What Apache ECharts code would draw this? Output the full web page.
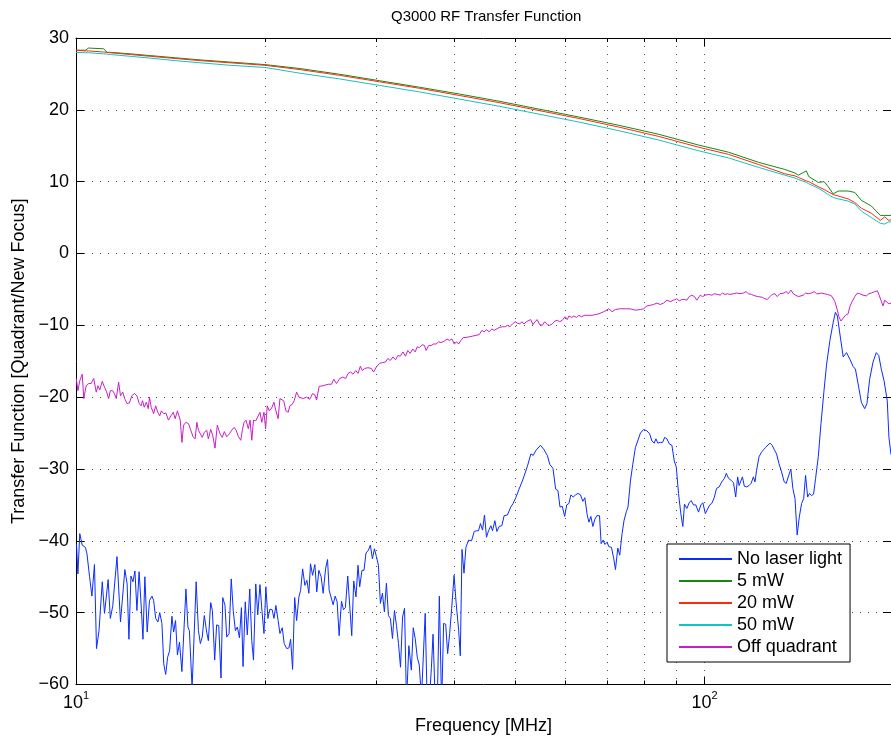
<!DOCTYPE html>
<html>
<head>
<meta charset="utf-8">
<title>Q3000 RF Transfer Function</title>
<script src="https://cdn.jsdelivr.net/npm/echarts@6/dist/echarts.min.js"></script>
<style>
  html, body { margin: 0; padding: 0; background: #fff; }
  #chart { width: 891px; height: 742px; }
</style>
</head>
<body>
<div id="chart"></div>
<script>
// values (frequency in MHz, transfer function)
const xMin = 10, xMax = 198;
const yMin = -60, yMax = 30, yStep = 10;
const minorGridFreq = [20, 30, 40, 50, 60, 70, 80, 90];
const seriesNames = ['No laser light', '5 mW', '20 mW', '50 mW', 'Off quadrant'];

const noLaserFreq = [
  10.02, 10.07, 10.14, 10.23, 10.35, 10.41, 10.51, 10.60, 10.70, 10.78,
  10.88, 11.01, 11.10, 11.25, 11.34, 11.44, 11.52, 11.62, 11.77, 11.96,
  12.06, 12.14, 12.23, 12.32, 12.41, 12.50, 12.60, 12.70, 12.78, 12.87,
  12.98, 13.09, 13.21, 13.29, 13.39, 13.50, 13.59, 13.70, 13.79, 13.89,
  13.99, 14.09, 14.21, 14.30, 14.40, 14.50, 14.61, 14.74, 14.96, 15.07,
  15.15, 15.30, 15.53, 15.66, 15.77, 15.88, 16.00, 16.14, 16.24, 16.38,
  16.48, 16.62, 16.74, 16.87, 17.01, 17.12, 17.26, 17.37, 17.52, 17.66,
  17.79, 17.93, 18.06, 18.20, 18.33, 18.44, 18.59, 18.73, 18.90, 19.04,
  19.16, 19.32, 19.46, 19.62, 19.77, 19.91, 20.05, 20.20, 20.35, 20.52,
  20.65, 20.80, 20.97, 21.11, 21.29, 21.44, 21.64, 21.82, 21.95, 22.11,
  22.28, 22.44, 22.63, 22.77, 22.94, 23.13, 23.30, 23.47, 23.61, 23.79,
  23.99, 24.16, 24.34, 24.55, 24.73, 24.95, 25.13, 25.28, 25.46, 25.65,
  25.84, 26.03, 26.22, 26.45, 26.64, 26.83, 27.06, 27.46, 27.66, 27.89,
  28.10, 28.27, 28.51, 28.72, 28.93, 29.19, 29.40, 29.62, 29.84, 30.06,
  30.28, 30.50, 30.73, 30.95, 31.18, 31.41, 31.64, 31.88, 32.11, 32.35,
  32.59, 32.83, 33.08, 33.32, 33.56, 33.85, 34.16, 34.40, 34.65, 34.91,
  35.17, 35.45, 35.94, 36.21, 36.50, 36.77, 36.99, 37.30, 37.58, 37.85,
  38.17, 38.45, 38.74, 39.02, 39.31, 39.60, 39.95, 40.24, 40.63, 40.87,
  41.13, 41.43, 41.72, 42.13, 42.59, 43.01, 43.37, 43.69, 44.01, 44.34,
  44.66, 44.99, 45.32, 45.72, 45.99, 46.39, 46.73, 47.12, 47.59, 47.99,
  48.57, 49.17, 49.59, 50.08, 50.69, 51.44, 52.27, 52.93, 53.39, 53.93,
  54.82, 55.53, 56.21, 56.76, 57.39, 57.96, 58.45, 58.89, 59.39, 59.91,
  60.36, 60.84, 61.29, 61.80, 62.34, 62.93, 63.49, 64.02, 64.50, 65.04,
  65.46, 65.94, 66.42, 66.91, 67.40, 68.06, 68.47, 68.97, 69.40, 69.99,
  70.41, 71.11, 71.71, 72.16, 72.77, 73.30, 73.92, 74.45, 75.11, 75.55,
  76.22, 76.87, 77.63, 78.29, 79.07, 80.00, 80.99, 81.78, 82.47, 83.19,
  83.68, 84.30, 85.05, 85.77, 86.40, 87.13, 87.88, 88.73, 89.51, 90.16,
  90.91, 91.68, 92.35, 92.93, 93.72, 94.53, 95.22, 96.03, 96.85, 97.83,
  98.65, 99.38, 100.3, 101.0, 101.9, 102.7, 103.6, 104.5, 105.5, 106.5,
  107.6, 108.3, 109.2, 110.3, 111.2, 112.1, 112.9, 113.5, 114.2, 114.9,
  115.7, 116.7, 117.7, 118.6, 119.6, 120.3, 121.0, 122.1, 123.3, 124.3,
  125.0, 125.9, 127.1, 128.1, 129.1, 130.2, 131.3, 132.6, 133.9, 134.9,
  135.9, 137.2, 138.2, 139.3, 140.4, 141.5, 142.7, 143.8, 144.8, 145.9,
  146.9, 148.0, 149.1, 150.2, 151.7, 153.2, 154.9, 156.4, 158.3, 160.2,
  161.5, 162.7, 164.2, 166.2, 168.2, 170.3, 172.3, 173.8, 175.9, 177.6,
  179.8, 181.3, 183.1, 185.4, 187.6, 189.3, 191.1, 193.0, 194.2, 195.3,
  196.5, 198.0
];
const noLaserDb = [
  -40.5, -44.6, -39.0, -40.6, -40.9, -41.8, -45.0, -47.7, -43.3, -55.0,
  -52.5, -45.7, -50.1, -45.4, -50.8, -49.1, -49.2, -42.2, -51.3, -44.0,
  -46.0, -53.7, -44.9, -45.7, -44.2, -49.7, -44.3, -49.2, -53.7, -45.0,
  -52.7, -48.3, -47.7, -48.3, -50.8, -51.3, -50.0, -51.5, -57.1, -58.6,
  -56.2, -55.3, -50.5, -52.7, -51.1, -55.9, -54.1, -58.2, -46.7, -52.0,
  -52.5, -60.5, -45.7, -52.5, -54.3, -53.4, -50.4, -52.7, -53.9, -48.6,
  -49.7, -56.6, -51.7, -51.8, -59.1, -47.9, -49.0, -53.4, -52.9, -45.3,
  -49.7, -52.5, -52.0, -53.5, -49.3, -57.5, -48.5, -53.1, -46.7, -53.9,
  -56.6, -46.0, -50.3, -46.1, -49.9, -52.9, -46.4, -50.8, -49.5, -49.6,
  -50.8, -49.0, -51.1, -52.9, -52.1, -54.3, -55.0, -54.9, -53.7, -57.9,
  -47.9, -51.1, -47.8, -46.9, -43.9, -46.2, -45.5, -47.3, -43.2, -44.8,
  -43.3, -47.1, -44.1, -45.0, -47.3, -43.9, -42.6, -46.9, -47.1, -48.9,
  -47.7, -48.5, -53.2, -48.4, -49.6, -49.3, -44.9, -53.2, -45.6, -47.8,
  -43.4, -46.4, -44.1, -44.1, -41.7, -41.3, -40.6, -42.5, -41.1, -42.2,
  -43.4, -48.7, -47.3, -49.9, -45.9, -50.4, -50.8, -53.6, -49.7, -51.8,
  -54.3, -57.6, -50.6, -49.4, -62.5, -54.6, -58.0, -52.1, -53.6, -56.2,
  -57.3, -62.0, -50.1, -63.0, -62.0, -57.6, -53.0, -63.0, -62.0, -47.7,
  -63.0, -51.5, -51.6, -55.7, -52.9, -49.4, -44.8, -48.5, -52.5, -56.0,
  -41.2, -44.5, -40.9, -39.9, -40.0, -38.7, -38.6, -38.6, -37.6, -38.5,
  -36.4, -39.5, -38.6, -37.9, -38.6, -37.2, -38.7, -38.0, -37.9, -36.5,
  -36.4, -35.3, -34.8, -34.0, -32.8, -31.4, -29.6, -27.9, -28.1, -27.4,
  -26.7, -27.3, -28.1, -29.4, -29.9, -32.8, -33.0, -35.3, -35.2, -36.6,
  -35.0, -34.8, -33.6, -33.9, -33.6, -33.4, -33.6, -34.5, -34.0, -36.3,
  -37.4, -36.6, -38.0, -37.0, -36.5, -36.5, -40.4, -39.9, -40.5, -40.2,
  -40.8, -40.9, -42.5, -44.0, -41.0, -42.0, -39.0, -37.2, -35.9, -35.3,
  -31.7, -29.4, -27.0, -26.1, -25.0, -24.5, -24.7, -25.1, -26.1, -26.4,
  -25.8, -26.4, -26.3, -26.3, -25.6, -25.8, -26.5, -26.7, -28.9, -29.7,
  -33.4, -36.2, -38.0, -34.9, -35.5, -34.7, -34.4, -35.0, -35.0, -36.0,
  -35.0, -34.7, -36.2, -36.1, -35.0, -34.8, -34.0, -32.7, -32.5, -31.8,
  -31.3, -30.6, -31.3, -31.6, -31.9, -33.9, -31.1, -32.3, -32.3, -31.1,
  -32.4, -32.5, -32.3, -32.0, -31.1, -31.8, -30.2, -28.3, -27.6, -27.3,
  -27.0, -27.2, -26.4, -26.7, -27.3, -27.9, -29.2, -30.4, -31.8, -32.0,
  -31.1, -30.0, -32.7, -34.1, -39.2, -36.7, -34.8, -34.1, -30.9, -33.9,
  -33.4, -33.7, -33.5, -31.3, -28.3, -23.7, -19.1, -15.4, -12.1, -9.6,
  -8.2, -8.7, -11.2, -14.4, -13.8, -14.7, -15.7, -16.1, -18.6, -20.7,
  -21.6, -20.9, -17.5, -15.1, -13.8, -14.2, -16.1, -17.7, -17.9, -20.5,
  -25.6, -28.0
];

// the three laser power curves share one frequency list
const powerFreq = [
  10.00, 10.35, 10.47, 10.54, 11.06, 11.21, 11.34, 12.20, 13.13, 14.38,
  15.75, 17.58, 19.98, 22.71, 26.28, 30.41, 35.19, 40.72, 47.12, 54.53,
  63.10, 73.03, 84.51, 97.83, 109.2, 121.8, 134.2, 139.3, 141.0, 145.2,
  146.5, 151.7, 155.0, 157.3, 160.2, 163.2, 169.2, 173.4, 177.6, 184.3,
  190.4, 193.5, 196.5, 198.0
];
const mw5Db = [
  28.3, 28.3, 28.6, 28.6, 28.5, 28.0, 28.0, 27.8, 27.55, 27.25,
  26.95, 26.65, 26.3, 25.75, 24.95, 24.05, 23.15, 22.2, 21.2, 20.1,
  19.0, 17.85, 16.6, 15.1, 14.1, 12.7, 11.7, 11.2, 10.9, 11.5,
  10.7, 9.9, 10.0, 9.3, 8.3, 8.7, 8.7, 8.5, 7.4, 6.6,
  5.3, 5.3, 5.3, 5.3
];
const mw20Db = [
  28.3, 28.2, 28.2, 28.2, 28.05, 28.0, 27.95, 27.7, 27.45, 27.15,
  26.85, 26.55, 26.2, 25.6, 24.8, 23.9, 23.0, 22.0, 21.0, 19.9,
  18.8, 17.6, 16.3, 14.8, 13.8, 12.4, 11.1, 10.8, 10.6, 10.1,
  10.0, 9.3, 8.9, 8.6, 8.2, 8.0, 7.6, 7.1, 6.3, 5.6,
  4.6, 5.1, 4.6, 4.7
];
const mw50Db = [
  28.0, 27.95, 27.95, 27.9, 27.8, 27.75, 27.7, 27.45, 27.2, 26.85,
  26.55, 26.2, 25.9, 25.1, 24.3, 23.4, 22.5, 21.5, 20.5, 19.4,
  18.3, 17.1, 15.8, 14.3, 13.3, 12.0, 10.9, 10.5, 10.3, 9.9,
  9.7, 9.1, 8.6, 8.2, 7.8, 7.6, 7.3, 6.9, 5.9, 5.0,
  4.2, 4.1, 4.4, 4.4
];

const offQuadFreq = [
  10.01, 10.07, 10.14, 10.23, 10.29, 10.38, 10.48, 10.57, 10.67, 10.77,
  10.84, 10.91, 11.01, 11.10, 11.18, 11.27, 11.34, 11.44, 11.51, 11.59,
  11.69, 11.77, 11.87, 11.95, 12.06, 12.16, 12.27, 12.39, 12.50, 12.61,
  12.69, 12.76, 12.84, 12.94, 13.03, 13.09, 13.17, 13.29, 13.39, 13.49,
  13.59, 13.67, 13.79, 13.90, 14.03, 14.16, 14.28, 14.38, 14.50, 14.65,
  14.74, 14.83, 14.96, 15.10, 15.23, 15.35, 15.47, 15.57, 15.66, 15.75,
  15.88, 16.00, 16.14, 16.24, 16.38, 16.50, 16.64, 16.78, 16.95, 17.09,
  17.22, 17.37, 17.54, 17.69, 17.85, 17.98, 18.13, 18.29, 18.40, 18.51,
  18.64, 18.80, 18.92, 19.04, 19.16, 19.32, 19.46, 19.62, 19.75, 19.91,
  20.03, 20.15, 20.30, 20.48, 20.65, 20.80, 20.97, 21.11, 21.24, 21.40,
  21.58, 21.76, 21.89, 22.08, 22.24, 22.44, 22.63,
  22.71, 22.99, 23.27, 23.55, 23.79, 23.99, 24.14, 24.37, 24.73, 25.19,
  25.50, 25.71, 25.97, 26.28, 26.60, 26.86, 27.09, 27.36, 27.59, 27.87,
  28.10, 28.34, 28.55, 28.79, 29.14, 29.50, 29.75, 30.05, 30.41, 30.71,
  31.08, 31.35, 31.62, 31.93, 32.24, 32.52, 32.80, 33.12, 33.44, 33.72,
  34.02, 34.34, 34.64, 34.90, 35.19, 35.54, 35.84, 36.06, 36.41, 36.73,
  37.04, 37.40, 37.76, 38.09, 38.55, 38.93, 39.26, 39.65, 39.98, 40.32,
  40.62, 40.97, 41.32, 41.73, 42.23, 42.75, 43.28, 43.80, 44.23, 44.61,
  44.99, 45.43, 45.88, 46.27, 46.56, 47.12, 47.70, 48.17, 48.58, 49.00,
  49.48, 49.97, 50.39, 50.82, 51.20, 51.62, 52.06, 52.44, 52.89, 53.34,
  53.73, 54.18, 54.66, 55.18, 55.67, 56.21, 56.70, 57.25, 57.82, 58.31,
  58.82, 59.39, 59.98, 60.48, 60.84, 61.45, 61.96, 62.56, 63.10, 63.72,
  64.50, 65.29, 66.25, 67.08,
  67.89, 69.14, 70.41, 71.27, 72.16, 73.22, 74.84, 76.22, 77.63, 79.07,
  80.00, 80.99, 81.98, 82.98, 84.00, 85.05, 86.07, 87.13, 88.22, 89.27,
  90.36, 91.15, 92.02, 92.93, 93.72, 94.53, 95.43, 96.38, 97.20, 98.43,
  99.27, 100.3, 101.5, 102.7, 103.7, 105.0, 105.9, 106.8, 107.8, 108.8,
  109.7, 111.2, 112.5, 113.9, 115.3, 116.4, 117.4, 118.8, 120.3, 121.8,
  123.6, 124.8, 125.9, 127.1, 128.1, 129.4, 130.5, 131.8, 132.6, 133.8,
  134.8, 135.9, 137.3, 138.4, 139.6, 141.0, 142.4, 143.6, 144.8, 146.2,
  148.0, 149.4, 150.7, 152.0, 153.4, 155.0, 156.9, 158.3, 159.6, 161.2,
  162.7, 163.6, 164.8, 166.2, 167.6, 169.2, 170.3, 171.7, 173.4, 175.1,
  176.6, 178.7, 181.0, 182.6, 184.3, 186.6, 188.4, 189.6, 190.8, 192.3,
  193.5, 194.7, 196.4, 198.0
];
const offQuadDb = [
  -17.4, -19.1, -17.7, -16.8, -20.2, -18.4, -18.1, -18.1, -17.4, -19.3,
  -18.4, -19.0, -17.8, -18.6, -19.2, -20.2, -19.1, -19.1, -19.5, -20.2,
  -17.9, -19.8, -19.3, -20.2, -20.9, -20.8, -19.8, -19.5, -19.8, -20.9,
  -21.2, -20.5, -21.4, -20.7, -21.6, -20.0, -21.4, -22.3, -21.2, -22.1,
  -22.6, -21.9, -22.3, -22.2, -23.2, -22.6, -22.1, -23.0, -21.9, -23.2,
  -26.3, -23.9, -23.5, -23.7, -24.6, -25.5, -25.8, -23.5, -24.6, -24.4,
  -25.6, -24.9, -24.6, -25.8, -24.5, -25.3, -27.1, -23.9, -25.1, -25.6,
  -24.8, -25.5, -25.1, -24.6, -24.2, -24.6, -25.5, -26.0, -24.5, -23.5,
  -23.2, -24.4, -23.2, -26.0, -23.2, -23.3, -23.2, -22.1, -23.5, -22.1,
  -24.4, -21.2, -21.9, -21.5, -20.7, -21.9, -23.0, -20.2, -20.0, -20.5,
  -21.9, -22.1, -21.2, -21.0, -20.5, -19.3, -20.0,
  -19.9, -20.2, -20.0, -20.3, -19.5, -19.7, -20.4, -18.5, -18.4, -18.2,
  -18.2, -17.5, -18.1, -17.4, -17.2, -17.4, -16.7, -16.5, -16.8, -16.3,
  -16.7, -15.7, -16.3, -16.0, -15.9, -16.0, -16.5, -15.8, -15.3, -15.2,
  -15.1, -14.6, -14.9, -14.4, -14.8, -14.2, -14.3, -13.7, -14.3, -13.5,
  -13.9, -13.3, -13.7, -13.0, -13.1, -12.7, -12.8, -13.5, -12.8, -12.8,
  -12.6, -12.6, -12.3, -12.4, -12.2, -11.9, -12.1, -11.9, -12.6, -12.3,
  -12.6, -12.1, -11.7, -11.7, -11.6, -11.5, -11.4, -11.3, -10.7, -10.9,
  -10.6, -10.9, -10.5, -10.7, -10.7, -10.3, -10.2, -10.2, -10.0, -10.2,
  -9.8, -9.5, -9.7, -9.8, -9.5, -9.8, -9.5, -9.6, -9.2, -9.9,
  -9.5, -9.2, -9.9, -10.0, -9.5, -9.9, -10.0, -9.8, -9.4, -9.3,
  -9.5, -9.3, -8.8, -9.2, -8.7, -8.9, -8.7, -8.9, -8.6, -8.8,
  -8.6, -8.6, -8.6, -8.5,
  -8.4, -8.1, -7.7, -8.1, -7.8, -7.7, -7.7, -7.7, -7.9, -7.8,
  -7.7, -7.3, -7.2, -7.1, -6.9, -7.1, -6.9, -6.5, -6.7, -6.5,
  -6.3, -6.6, -6.4, -6.4, -6.5, -6.0, -5.8, -6.0, -6.5, -5.8,
  -6.0, -5.8, -5.7, -5.8, -5.6, -5.7, -5.8, -5.5, -5.7, -5.6,
  -5.7, -5.6, -5.5, -5.6, -5.5, -5.3, -5.6, -5.7, -5.9, -6.0,
  -6.1, -6.3, -6.4, -6.0, -5.7, -5.6, -6.0, -5.6, -5.8, -5.5,
  -5.3, -5.6, -5.1, -5.6, -5.8, -6.0, -5.9, -5.8, -5.5, -5.6,
  -5.5, -5.3, -5.6, -5.6, -5.5, -5.6, -5.7, -5.8, -6.0, -6.7,
  -7.9, -8.8, -9.4, -9.0, -8.6, -8.4, -7.4, -6.7, -6.0, -5.5,
  -5.6, -5.8, -5.9, -5.6, -5.5, -5.3, -5.2, -5.8, -6.5, -7.3,
  -6.5, -6.7, -7.0, -6.9
];

const FONT = '"Liberation Sans", Arial, Helvetica, sans-serif';
const colors = ['#0a2cff', '#128a12', '#ff2a0a', '#10c4c4', '#c81ec8'];

function pairs(freq, vals) {
  return freq.map((f, i) => [f, vals[i]]);
}

function lineSeries(name, freq, vals, color) {
  return {
    name: name,
    type: 'line',
    data: pairs(freq, vals),
    showSymbol: false,
    symbol: 'none',
    lineStyle: { color: color, width: 1 },
    itemStyle: { color: color },
    emphasis: { disabled: true },
    animation: false,
    z: 3
  };
}

// dotted minor grid + short inward ticks for 20..90 MHz
function renderMinor(params, api) {
  const f = api.value(0);
  const top = api.coord([f, yMax]);
  const bot = api.coord([f, yMin]);
  const x = Math.round(top[0]) + 0.5;
  return {
    type: 'group',
    children: [
      { type: 'line', shape: { x1: x, y1: top[1], x2: x, y2: bot[1] },
        style: { stroke: '#555', lineWidth: 1, lineDash: [1, 7] } },
      { type: 'line', shape: { x1: x, y1: bot[1], x2: x, y2: bot[1] - 4 },
        style: { stroke: '#000', lineWidth: 1 } },
      { type: 'line', shape: { x1: x, y1: top[1], x2: x, y2: top[1] + 4 },
        style: { stroke: '#000', lineWidth: 1 } }
    ]
  };
}

function decadeLabel(v) {
  const e = Math.round(Math.log10(v));
  if (Math.abs(v - Math.pow(10, e)) > 1e-6 * v) return '';
  return '{b|10}{s|' + e + '}';
}

const chart = echarts.init(document.getElementById('chart'));
chart.setOption({
  animation: false,
  backgroundColor: '#fff',
  textStyle: { fontFamily: FONT },
  title: {
    text: 'Q3000 RF Transfer Function',
    left: 391,
    top: 9,
    padding: 0,
    textStyle: { fontSize: 15, fontWeight: 'normal', color: '#000', fontFamily: FONT }
  },
  grid: { left: 76, right: -2, top: 38, bottom: 57.5 },
  legend: {
    data: seriesNames,
    orient: 'vertical',
    left: 667,
    top: 544,
    itemWidth: 53,
    itemHeight: 14,
    itemGap: 4,
    padding: [6, 8, 6, 11],
    borderColor: '#000',
    borderWidth: 1,
    backgroundColor: '#fff',
    selectedMode: false,
    itemStyle: { opacity: 0 },
    textStyle: { fontSize: 18, lineHeight: 18, color: '#000', fontFamily: FONT }
  },
  xAxis: [
    {
      type: 'log',
      logBase: 10,
      min: xMin,
      max: xMax,
      position: 'bottom',
      name: 'Frequency [MHz]',
      nameLocation: 'middle',
      nameGap: 33,
      nameTextStyle: { fontSize: 18, color: '#000', fontFamily: FONT },
      axisLine: { show: true, onZero: false, lineStyle: { color: '#000', width: 1 } },
      axisTick: { show: true, inside: true, length: 8, lineStyle: { color: '#000' } },
      axisLabel: {
        showMaxLabel: false,
        margin: 6,
        formatter: decadeLabel,
        rich: {
          b: { fontSize: 18, lineHeight: 22, verticalAlign: 'bottom', color: '#000', fontFamily: FONT },
          s: { fontSize: 11, lineHeight: 22, verticalAlign: 'top', color: '#000', fontFamily: FONT }
        }
      },
      splitLine: { show: true, lineStyle: { color: '#555', width: 1, type: [1, 7] } },
      minorTick: { show: false },
      minorSplitLine: { show: false }
    },
    {
      type: 'log',
      logBase: 10,
      min: xMin,
      max: xMax,
      position: 'top',
      axisLine: { show: true, onZero: false, lineStyle: { color: '#000', width: 1 } },
      axisTick: { show: true, inside: true, length: 8, lineStyle: { color: '#000' } },
      axisLabel: { show: false },
      splitLine: { show: false }
    }
  ],
  yAxis: [
    {
      type: 'value',
      min: yMin,
      max: yMax,
      interval: yStep,
      position: 'left',
      name: 'Transfer Function [Quadrant/New Focus]',
      nameLocation: 'middle',
      nameGap: 44,
      nameTextStyle: { fontSize: 18, color: '#000', fontFamily: FONT },
      axisLine: { show: true, onZero: false, lineStyle: { color: '#000', width: 1 } },
      axisTick: { show: true, inside: true, length: 8, lineStyle: { color: '#000' } },
      axisLabel: {
        margin: 7,
        fontSize: 18,
        color: '#000',
        fontFamily: FONT,
        formatter: (v) => String(v).replace('-', '\u2212')
      },
      splitLine: { show: true, lineStyle: { color: '#555', width: 1, type: [1, 7] } }
    },
    {
      type: 'value',
      min: yMin,
      max: yMax,
      interval: yStep,
      position: 'right',
      axisLine: { show: true, onZero: false, lineStyle: { color: '#000', width: 1 } },
      axisTick: { show: true, inside: true, length: 8, lineStyle: { color: '#000' } },
      axisLabel: { show: false },
      splitLine: { show: false }
    }
  ],
  series: [
    {
      type: 'custom',
      name: 'minor-grid',
      xAxisIndex: 0,
      yAxisIndex: 0,
      data: minorGridFreq.map((f) => [f, yMin]),
      renderItem: renderMinor,
      silent: true,
      animation: false,
      z: 1
    },
    lineSeries(seriesNames[0], noLaserFreq, noLaserDb, colors[0]),
    lineSeries(seriesNames[1], powerFreq, mw5Db, colors[1]),
    lineSeries(seriesNames[2], powerFreq, mw20Db, colors[2]),
    lineSeries(seriesNames[3], powerFreq, mw50Db, colors[3]),
    lineSeries(seriesNames[4], offQuadFreq, offQuadDb, colors[4])
  ]
});
</script>
</body>
</html>
